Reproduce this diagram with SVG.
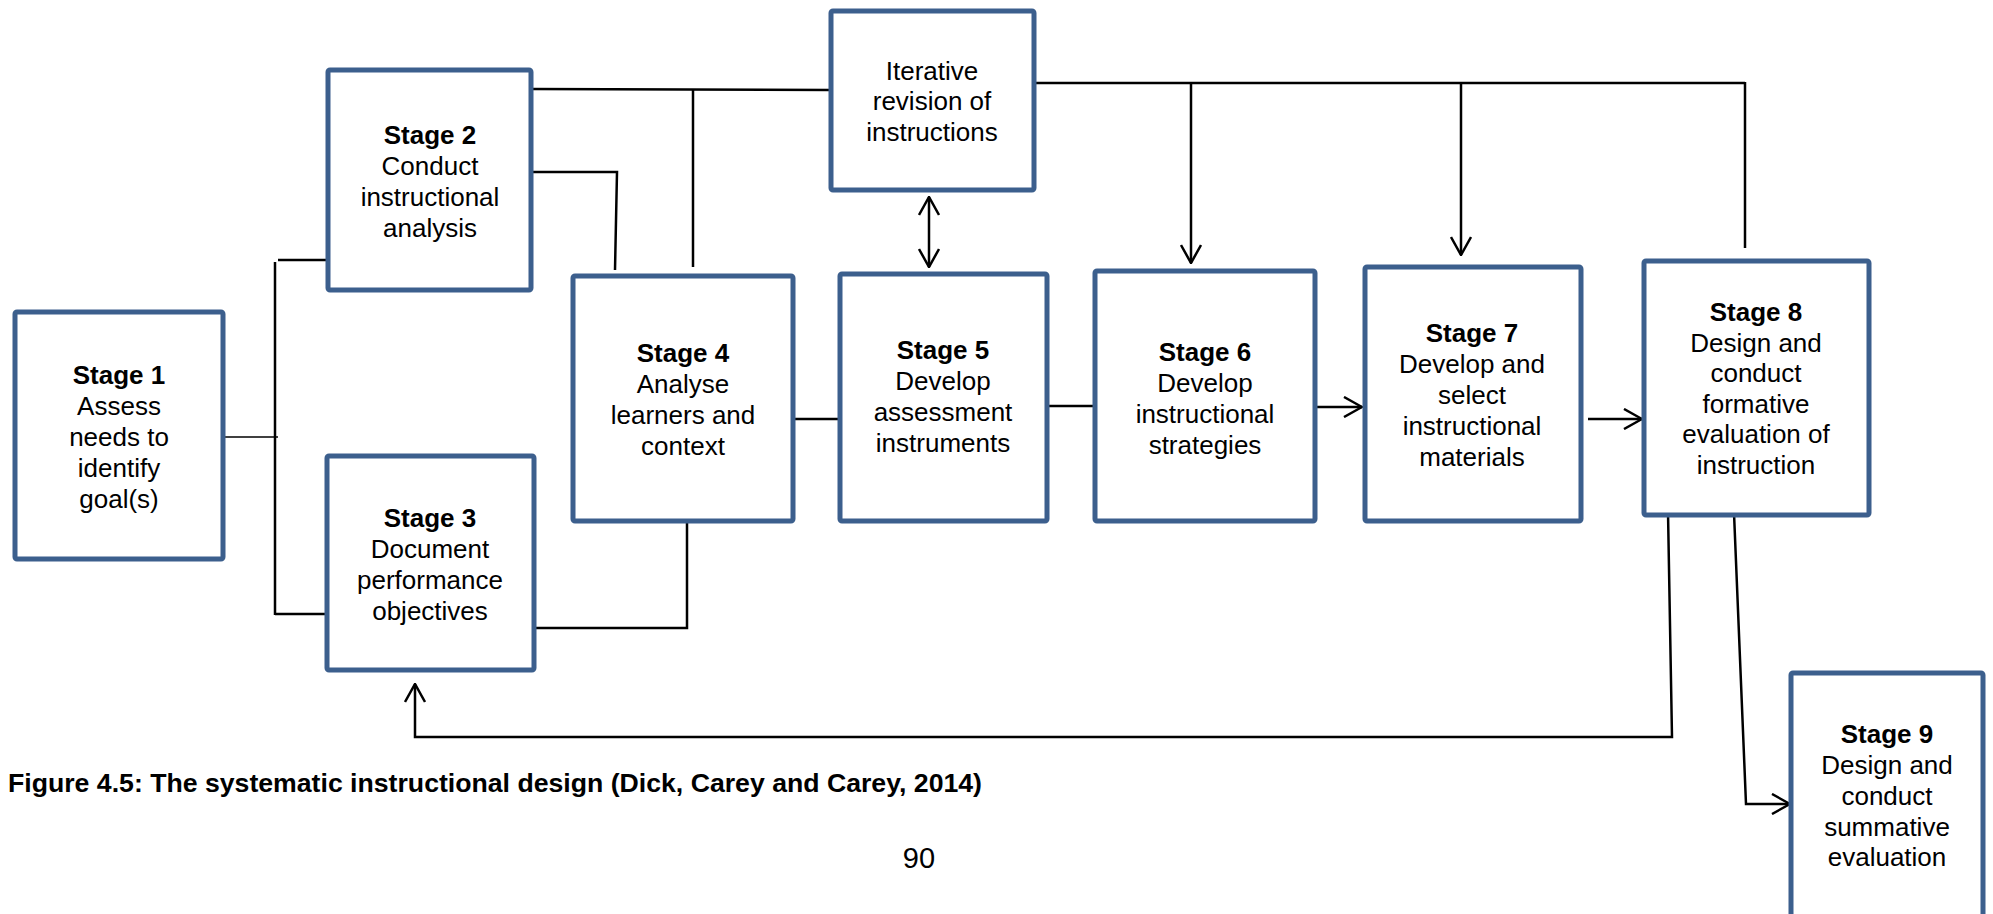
<svg xmlns="http://www.w3.org/2000/svg" width="1993" height="914" viewBox="0 0 1993 914">
  <style>
    .box { fill: #ffffff; stroke: #3c5f8d; stroke-width: 5; }
    .t { font-family: "Liberation Sans", Arial, sans-serif; font-size: 26px; fill: #000; text-anchor: middle; }
    .b { font-weight: bold; }
    .ln { fill: none; stroke: #000; stroke-width: 2.5; }
    .thin { fill: none; stroke: #000; stroke-width: 1.5; }
  </style>
  <defs>
    <marker id="arr" viewBox="0 0 20 22" refX="19" refY="11" markerWidth="20" markerHeight="22" markerUnits="userSpaceOnUse" orient="auto-start-reverse">
      <path d="M1,1 L19,11 L1,21" fill="none" stroke="#000" stroke-width="2.5"/>
    </marker>
  </defs>
  <rect width="1993" height="914" fill="#ffffff"/>

  <!-- connectors -->
  <g id="connectors">
    <line class="thin" x1="223" y1="437" x2="278" y2="437"/>
    <line class="ln" x1="275" y1="262" x2="275" y2="615"/>
    <line class="ln" x1="278" y1="260" x2="328" y2="260"/>
    <line class="ln" x1="275" y1="614" x2="327" y2="614"/>
    <line class="ln" x1="531" y1="89" x2="831" y2="90"/>
    <line class="ln" x1="693" y1="90" x2="693" y2="267"/>
    <polyline class="ln" points="531,172 617,172 615,270"/>
    <polyline class="ln" points="687,521 687,628 534,628"/>
    <line class="ln" x1="793" y1="419" x2="840" y2="419"/>
    <line class="ln" x1="1047" y1="406" x2="1095" y2="406"/>
    <line class="ln" x1="1315" y1="407" x2="1362" y2="407" marker-end="url(#arr)"/>
    <line class="ln" x1="1588" y1="419" x2="1642" y2="419" marker-end="url(#arr)"/>
    <line class="ln" x1="929" y1="197" x2="929" y2="267" marker-start="url(#arr)" marker-end="url(#arr)"/>
    <line class="ln" x1="1034" y1="83" x2="1745" y2="83"/>
    <line class="ln" x1="1745" y1="82" x2="1745" y2="248"/>
    <line class="ln" x1="1191" y1="83" x2="1191" y2="263" marker-end="url(#arr)"/>
    <line class="ln" x1="1461" y1="83" x2="1461" y2="255" marker-end="url(#arr)"/>
    <polyline class="ln" points="1668,512 1672,737 415,737 415,684" marker-end="url(#arr)"/>
    <polyline class="ln" points="1734,513 1746,804 1790,804" marker-end="url(#arr)"/>
  </g>

  <g id="stage1">
    <rect class="box" x="15" y="312" width="208" height="247" rx="2"/>
    <text class="t b" x="119" y="384">Stage 1</text>
    <text class="t" x="119" y="415">Assess</text>
    <text class="t" x="119" y="446">needs to</text>
    <text class="t" x="119" y="477">identify</text>
    <text class="t" x="119" y="508">goal(s)</text>
  </g>

  <g id="stage2">
    <rect class="box" x="328" y="70" width="203" height="220" rx="2"/>
    <text class="t b" x="430" y="144">Stage 2</text>
    <text class="t" x="430" y="175">Conduct</text>
    <text class="t" x="430" y="206">instructional</text>
    <text class="t" x="430" y="237">analysis</text>
  </g>

  <g id="stage3">
    <rect class="box" x="327" y="456" width="207" height="214" rx="2"/>
    <text class="t b" x="430" y="527">Stage 3</text>
    <text class="t" x="430" y="558">Document</text>
    <text class="t" x="430" y="589">performance</text>
    <text class="t" x="430" y="620">objectives</text>
  </g>

  <g id="stage4">
    <rect class="box" x="573" y="276" width="220" height="245" rx="2"/>
    <text class="t b" x="683" y="362">Stage 4</text>
    <text class="t" x="683" y="393">Analyse</text>
    <text class="t" x="683" y="424">learners and</text>
    <text class="t" x="683" y="455">context</text>
  </g>

  <g id="stage5">
    <rect class="box" x="840" y="274" width="207" height="247" rx="2"/>
    <text class="t b" x="943" y="359">Stage 5</text>
    <text class="t" x="943" y="390">Develop</text>
    <text class="t" x="943" y="421">assessment</text>
    <text class="t" x="943" y="452">instruments</text>
  </g>

  <g id="stage6">
    <rect class="box" x="1095" y="271" width="220" height="250" rx="2"/>
    <text class="t b" x="1205" y="361">Stage 6</text>
    <text class="t" x="1205" y="392">Develop</text>
    <text class="t" x="1205" y="423">instructional</text>
    <text class="t" x="1205" y="454">strategies</text>
  </g>

  <g id="stage7">
    <rect class="box" x="1365" y="267" width="216" height="254" rx="2"/>
    <text class="t b" x="1472" y="342">Stage 7</text>
    <text class="t" x="1472" y="373">Develop and</text>
    <text class="t" x="1472" y="404">select</text>
    <text class="t" x="1472" y="435">instructional</text>
    <text class="t" x="1472" y="466">materials</text>
  </g>

  <g id="stage8">
    <rect class="box" x="1644" y="261" width="225" height="254" rx="2"/>
    <text class="t b" x="1756" y="321">Stage 8</text>
    <text class="t" x="1756" y="352">Design and</text>
    <text class="t" x="1756" y="382">conduct</text>
    <text class="t" x="1756" y="413">formative</text>
    <text class="t" x="1756" y="443">evaluation of</text>
    <text class="t" x="1756" y="474">instruction</text>
  </g>

  <g id="stage9">
    <rect class="box" x="1791" y="673" width="192" height="262" rx="2"/>
    <text class="t b" x="1887" y="743">Stage 9</text>
    <text class="t" x="1887" y="774">Design and</text>
    <text class="t" x="1887" y="805">conduct</text>
    <text class="t" x="1887" y="836">summative</text>
    <text class="t" x="1887" y="866">evaluation</text>
  </g>

  <g id="revision">
    <rect class="box" x="831" y="11" width="203" height="179" rx="2"/>
    <text class="t" x="932" y="80">Iterative</text>
    <text class="t" x="932" y="110">revision of</text>
    <text class="t" x="932" y="141">instructions</text>
  </g>

  <g id="caption">
    <text x="8" y="792" font-family="Liberation Sans, Arial, sans-serif" font-size="26" font-weight="bold" textLength="974" lengthAdjust="spacingAndGlyphs">Figure 4.5: The systematic instructional design (Dick, Carey and Carey, 2014)</text>
    <text x="919" y="868" font-family="Liberation Sans, Arial, sans-serif" font-size="29" text-anchor="middle">90</text>
  </g>
</svg>
